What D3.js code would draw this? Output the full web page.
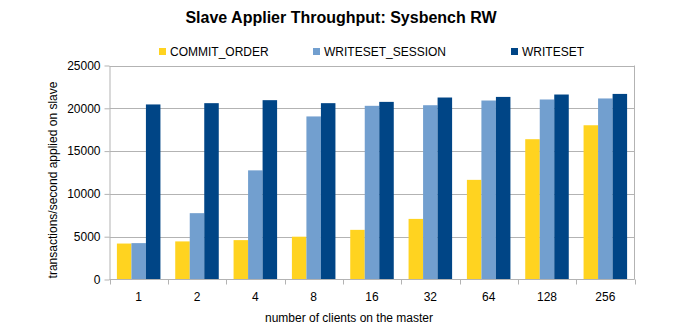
<!DOCTYPE html>
<html>
<head>
<meta charset="utf-8">
<script src="https://cdn.jsdelivr.net/npm/d3@7"></script>
<style>
  html, body { margin: 0; padding: 0; background: #fff; }
  svg { display: block; font-family: "Liberation Sans", Arial, sans-serif; }
</style>
</head>
<body>
<svg id="chart" width="683" height="333"></svg>
<script>
// Client counts on the master
const categories = ["1", "2", "4", "8", "16", "32", "64", "128", "256"];
// Series names
const seriesNames = ["COMMIT_ORDER", "WRITESET_SESSION", "WRITESET"];
// Transactions per second applied on the slave
const commitOrder = [4200, 4450, 4600, 5000, 5800, 7080, 11640, 16390, 18020];
const writesetSession = [4250, 7750, 12750, 19050, 20290, 20360, 20910, 21030, 21150];
const writeset = [20450, 20600, 20950, 20600, 20750, 21260, 21330, 21610, 21680];
// Y axis ticks
const yTicks = [0, 5000, 10000, 15000, 20000, 25000];

const seriesValues = [commitOrder, writesetSession, writeset];
const colors = ["#FFD320", "#729FCF", "#004586"];

const svg = d3.select("#chart");
const plot = { left: 109.5, right: 634.5, top: 65.5, bottom: 279.5 };
const gridColor = "#b3b3b3";

const x0 = d3.scaleBand().domain(categories).range([plot.left, plot.right]).padding(0);
const x1 = d3.scaleBand().domain(seriesNames)
  .range([7.4, x0.bandwidth() - 7.4]).padding(0);
const y = d3.scaleLinear().domain([0, 25000]).range([plot.bottom, plot.top]);

// Horizontal grid
svg.append("g").selectAll("line").data(yTicks.filter(d => d > 0)).join("line")
  .attr("x1", plot.left).attr("x2", plot.right)
  .attr("y1", d => Math.round(y(d)) + 0.5).attr("y2", d => Math.round(y(d)) + 0.5)
  .attr("stroke", gridColor).attr("stroke-width", 1);

// Right border of the plot area
svg.append("line")
  .attr("x1", plot.right).attr("x2", plot.right)
  .attr("y1", plot.top).attr("y2", plot.bottom)
  .attr("stroke", gridColor);

// Bars
const groups = svg.append("g").selectAll("g").data(categories).join("g")
  .attr("transform", d => `translate(${x0(d)},0)`);
groups.selectAll("rect")
  .data((c, i) => seriesNames.map((s, k) => ({ s, k, v: seriesValues[k][i] })))
  .join("rect")
  .attr("x", d => x1(d.s))
  .attr("width", x1.bandwidth())
  .attr("y", d => y(d.v))
  .attr("height", d => y(0) - y(d.v))
  .attr("fill", d => colors[d.k]);

// Y axis
const yAxis = svg.append("g")
  .attr("transform", `translate(${plot.left},0)`)
  .call(d3.axisLeft(y).tickValues(yTicks).tickFormat(d3.format("d"))
    .tickSize(5).tickPadding(4).tickSizeOuter(0));
yAxis.select(".domain").attr("stroke", gridColor);
yAxis.selectAll(".tick line").attr("stroke", gridColor);
yAxis.selectAll(".tick text").attr("font-size", 12).attr("fill", "#000")
  .attr("font-family", "Liberation Sans, Arial, sans-serif");

// X axis: ticks at category boundaries, labels centred in each band
const xAxis = svg.append("g").attr("transform", `translate(0,${plot.bottom})`);
xAxis.append("line")
  .attr("x1", plot.left).attr("x2", plot.right)
  .attr("stroke", gridColor);
const boundaries = categories.map(c => x0(c)).concat([plot.right]);
xAxis.selectAll("line.tk").data(boundaries).join("line").attr("class", "tk")
  .attr("x1", d => Math.round(d) + 0.5).attr("x2", d => Math.round(d) + 0.5)
  .attr("y1", 0).attr("y2", 5)
  .attr("stroke", gridColor);
xAxis.selectAll("text").data(categories).join("text")
  .attr("x", d => x0(d) + x0.bandwidth() / 2)
  .attr("y", 21)
  .attr("text-anchor", "middle")
  .attr("font-size", 12)
  .text(d => d);

// Title
svg.append("text")
  .attr("x", 341).attr("y", 23)
  .attr("text-anchor", "middle")
  .attr("font-size", 16).attr("font-weight", "bold")
  .text("Slave Applier Throughput: Sysbench RW");

// Axis titles
svg.append("text")
  .attr("x", 349).attr("y", 322)
  .attr("text-anchor", "middle")
  .attr("font-size", 12)
  .text("number of clients on the master");
svg.append("text")
  .attr("transform", "translate(57,180) rotate(-90)")
  .attr("text-anchor", "middle")
  .attr("font-size", 12)
  .text("transactions/second applied on slave");

// Legend
const legendX = [159, 313, 511];
const legend = svg.append("g").selectAll("g").data(seriesNames).join("g")
  .attr("transform", (d, i) => `translate(${legendX[i]},48)`);
legend.append("rect").attr("width", 7).attr("height", 7)
  .attr("fill", (d, i) => colors[i]);
legend.append("text").attr("x", 11).attr("y", 7.5)
  .attr("font-size", 12)
  .text(d => d);
</script>
</body>
</html>
